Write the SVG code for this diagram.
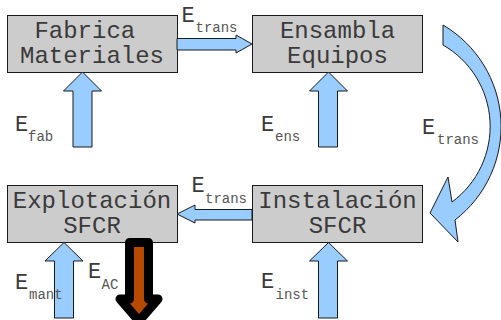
<svg xmlns="http://www.w3.org/2000/svg" width="501" height="320" viewBox="0 0 501 320">
  <style>
    .box { fill: #cccccc; stroke: #1a1a1a; stroke-width: 1; }
    .name { font-family: "Liberation Mono", "Courier New", monospace; font-size: 24px; fill: #3a3a3a; }
    .flow { fill: #99ccff; stroke: #1a1a1a; stroke-width: 1; stroke-linejoin: miter; }
    .out { fill: #b84a00; stroke: #000000; stroke-width: 9; stroke-linejoin: round; }
    .lbl { font-family: "Liberation Mono", "Courier New", monospace; font-size: 22px; fill: #3a3a3a; }
    .sub { font-size: 14px; fill: #555555; }
  </style>
  <rect width="501" height="320" fill="#ffffff"/>

  <g id="fabrica">
    <rect class="box" x="7.5" y="15.5" width="170" height="57"/>
    <text class="name"><tspan x="34.4" y="38">Fabrica</tspan><tspan x="20" y="63">Materiales</tspan></text>
  </g>
  <g id="ensambla">
    <rect class="box" x="252.5" y="15.5" width="170" height="57"/>
    <text class="name" text-anchor="middle"><tspan x="337.5" y="38">Ensambla</tspan><tspan x="337.5" y="63">Equipos</tspan></text>
  </g>
  <g id="explotacion">
    <rect class="box" x="7.5" y="185.5" width="170" height="57"/>
    <text class="name" text-anchor="middle"><tspan x="92" y="208">Explotación</tspan><tspan x="92" y="233">SFCR</tspan></text>
  </g>
  <g id="instalacion">
    <rect class="box" x="252.5" y="185.5" width="170" height="57"/>
    <text class="name" text-anchor="middle"><tspan x="337.5" y="208">Instalación</tspan><tspan x="337.5" y="233">SFCR</tspan></text>
  </g>

  <!-- energy flows, drawn over the box edges -->
  <g id="connectors">
    <!-- Fabrica -> Ensambla -->
    <path class="flow" d="M177,38.5 H236 V35 L252,44 L236,53 V50 H177 Z"/>
    <!-- Ensambla -> Instalacion (curved) -->
    <path class="flow" d="M443,25 A117.8,117.8 0 0 1 455,220 L458,242 L430,213 L448,177 L452,202 A93.9,93.9 0 0 0 443,45 Z"/>
    <!-- Instalacion -> Explotacion -->
    <path class="flow" d="M252,209.5 H195 V205 L177,214 L195,223 V220 H252 Z"/>
    <!-- inputs from below -->
    <path class="flow" d="M73,147 V91 H63.5 L82.5,72 L101.5,91 H92 V147 Z"/>
    <path class="flow" d="M318.5,147 V91 H309.5 L328.5,72 L347.5,91 H337.5 V147 Z"/>
    <path class="flow" d="M54.5,318 V261 H45 L64,242.5 L83,261 H73.5 V318 Z"/>
    <path class="flow" d="M318.5,318 V261 H309.5 L328.5,242.5 L347.5,261 H337.5 V318 Z"/>
    <!-- output energy -->
    <path class="out" d="M129.5,242.5 H148.5 V299 H158 L139,321 L120,299 H129.5 Z"/>

    <text class="lbl"><tspan x="181.5" y="22">E</tspan><tspan class="sub" x="195.5" y="32">trans</tspan></text>
    <text class="lbl"><tspan x="422" y="133.5">E</tspan><tspan class="sub" x="437" y="143.5">trans</tspan></text>
    <text class="lbl"><tspan x="191.5" y="191.5">E</tspan><tspan class="sub" x="205" y="202.5">trans</tspan></text>
    <text class="lbl"><tspan x="15" y="131">E</tspan><tspan class="sub" x="28" y="141">fab</tspan></text>
    <text class="lbl"><tspan x="261" y="131">E</tspan><tspan class="sub" x="275" y="140.5">ens</tspan></text>
    <text class="lbl"><tspan x="15" y="288.5">E</tspan><tspan class="sub" x="29" y="298.5">mant</tspan></text>
    <text class="lbl"><tspan x="88" y="277.5">E</tspan><tspan class="sub" x="101.5" y="288.5">AC</tspan></text>
    <text class="lbl"><tspan x="261" y="288">E</tspan><tspan class="sub" x="275.5" y="298.5">inst</tspan></text>
  </g>
</svg>
